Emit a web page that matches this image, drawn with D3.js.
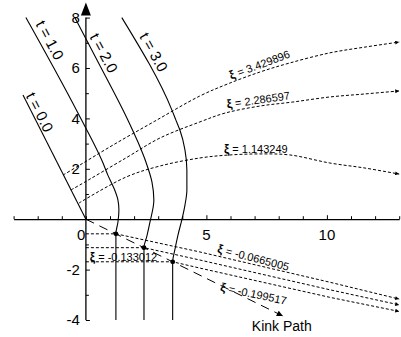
<!DOCTYPE html>
<html>
<head>
<meta charset="utf-8">
<script src="https://cdn.jsdelivr.net/npm/d3@7"></script>
<style>
  html, body { margin: 0; padding: 0; background: #fff; }
  svg { display: block; font-family: "Liberation Sans", Arial, Helvetica, sans-serif; }
</style>
</head>
<body>
<svg id="chart" width="401" height="337"></svg>
<script>
// ---- Tick labels ----
const xTickLabels = [0, 5, 10];
const yTickLabels = [-4, -2, 2, 4, 6, 8];

// ---- String shape at successive times (x, y) ----
const timeLabels = ["t = 0.0", "t = 1.0", "t = 2.0", "t = 3.0"];
const stringT0 = [[-2.61, 4.93], [0, 0]];
const stringT1 = [[-2.49, 8], [-0.33, 4.21], [0.71, 2.23], [0.91, 1.75], [1.16, 1.24], [1.33, 0.76],
                  [1.37, 0.37], [1.33, -0.11], [1.245, -0.58], [1.245, -4]];
const stringT2 = [[-0.46, 8], [0.46, 6.32], [1.74, 3.94], [2.16, 3.06], [2.49, 2.27], [2.74, 1.48],
                  [2.82, 0.76], [2.66, -0.11], [2.53, -0.67], [2.41, -1.13], [2.41, -4]];
const stringT3 = [[1.49, 8], [3.57, 4.33], [3.73, 3.94], [3.90, 3.54], [4.11, 2.75], [4.19, 1.95],
                  [4.19, 1.16], [4.11, 0.56], [3.98, -0.03], [3.82, -0.63], [3.69, -1.22], [3.6, -1.69], [3.6, -4]];

// ---- Material lines, positive xi ----
const xiPosValues = ["3.429896", "2.286597", "1.143249"];
const xiPos1 = [[-0.95, 1.75], [-0.25, 2.15], [1.12, 2.94], [2.86, 3.89], [4.73, 4.89], [5.89, 5.37],
                [7.22, 5.84], [8.46, 6.2], [10.12, 6.6], [11.58, 6.83], [13, 7.03]];
const xiPos2 = [[-0.62, 1.16], [-0.25, 1.36], [1.66, 2.43], [3.07, 3.22], [4.73, 3.86], [5.77, 4.21],
                [7.22, 4.49], [8.59, 4.65], [10.12, 4.85], [11.58, 4.97], [13, 5.09]];
const xiPos3 = [[-0.29, 0.64], [1.66, 1.67], [3.07, 2.11], [4.73, 2.43], [5.98, 2.55], [7.22, 2.59],
                [8.46, 2.55], [10.12, 2.23], [11.58, 2.03], [13, 1.79]];

// ---- Kink positions at t = 1, 2, 3 and kink path end ----
const kinkX = [1.245, 2.41, 3.6];
const kinkY = [-0.58, -1.13, -1.69];
const kinkPathEnd = [8.17, -3.84];

// ---- Material lines, negative xi (after the kink passes) ----
const xiNegValues = ["-0.0665005", "-0.133012", "-0.199517"];
const xiNeg1 = [[4.73, -1.30], [10.12, -2.50], [13, -3.17]];
const xiNeg2 = [[4.73, -1.62], [10.12, -2.80], [13, -3.40]];
const xiNeg3 = [[4.73, -1.94], [10.12, -3.10], [13, -3.66]];

// ---- Scales ----
const x = d3.scaleLinear().domain([-3, 13]).range([13.6, 399.2]);
const y = d3.scaleLinear().domain([-4, 8]).range([320, 17.6]);

const svg = d3.select("#chart");

// markers
const defs = svg.append("defs");
defs.append("marker").attr("id", "tipSmall")
  .attr("viewBox", "0 0 10 10").attr("refX", 10).attr("refY", 5)
  .attr("markerUnits", "userSpaceOnUse").attr("markerWidth", 5).attr("markerHeight", 4)
  .attr("orient", "auto")
  .append("path").attr("d", "M0,0L10,5L0,10Z").attr("fill", "#000");
defs.append("marker").attr("id", "tipKink")
  .attr("viewBox", "0 0 10 10").attr("refX", 10).attr("refY", 5)
  .attr("markerUnits", "userSpaceOnUse").attr("markerWidth", 8).attr("markerHeight", 6)
  .attr("orient", "auto")
  .append("path").attr("d", "M0,0L10,5L0,10Z").attr("fill", "#000");

const plot = svg.append("g");

// ---- string shapes ----
const lineT = d3.line().x(d => x(d[0])).y(d => y(d[1])).curve(d3.curveMonotoneY);
const strings = [stringT0, stringT1, stringT2, stringT3];
plot.selectAll("path.tline").data(strings).join("path")
  .attr("class", "tline")
  .attr("d", lineT)
  .attr("fill", "none").attr("stroke", "#000").attr("stroke-width", 1.1);

// ---- positive xi material lines ----
const lineXi = d3.line().x(d => x(d[0])).y(d => y(d[1])).curve(d3.curveCatmullRom.alpha(0.5));
plot.selectAll("path.xipos").data([xiPos1, xiPos2, xiPos3]).join("path")
  .attr("class", "xipos")
  .attr("d", lineXi)
  .attr("fill", "none").attr("stroke", "#000").attr("stroke-width", 1)
  .attr("stroke-dasharray", "3,2")
  .attr("marker-end", "url(#tipSmall)");

// ---- negative xi material lines: at rest until the kink arrives, then moving ----
const lineStraight = d3.line().x(d => x(d[0])).y(d => y(d[1]));
const negLines = [xiNeg1, xiNeg2, xiNeg3].map((pts, i) =>
  [[0, kinkY[i]], [kinkX[i], kinkY[i]], ...pts]);
plot.selectAll("path.xineg").data(negLines).join("path")
  .attr("class", "xineg")
  .attr("d", lineStraight)
  .attr("fill", "none").attr("stroke", "#000").attr("stroke-width", 1)
  .attr("stroke-dasharray", "3,2")
  .attr("marker-end", "url(#tipSmall)");

// ---- kink path ----
plot.append("path")
  .attr("d", lineStraight([[0, 0], kinkPathEnd]))
  .attr("fill", "none").attr("stroke", "#000").attr("stroke-width", 1)
  .attr("stroke-dasharray", "9,6")
  .attr("marker-end", "url(#tipKink)");

plot.selectAll("circle.kink").data(kinkX).join("circle")
  .attr("class", "kink")
  .attr("cx", d => x(d)).attr("cy", (d, i) => y(kinkY[i]))
  .attr("r", 2.4).attr("fill", "#000");

// ---- axes ----
const axes = svg.append("g");
const xAxis = d3.axisTop(x).tickValues(d3.range(-3, 14)).tickSize(3).tickSizeOuter(0).tickFormat("");
axes.append("g").attr("transform", `translate(0,${y(0)})`).call(xAxis)
  .call(g => g.select(".domain").attr("stroke-width", 1.3))
  .call(g => g.selectAll(".tick line").attr("stroke-width", 1))
  .call(g => g.selectAll(".tick").filter(d => xTickLabels.includes(d) && d !== 0)
    .select("line").attr("y2", -4));

const yAxis = d3.axisRight(y).tickValues(d3.range(-4, 9).filter(v => v !== 0))
  .tickSize(3).tickSizeOuter(0).tickFormat("");
axes.append("g").attr("transform", `translate(${x(0)},0)`).call(yAxis)
  .call(g => g.select(".domain").remove())
  .call(g => g.selectAll(".tick line").attr("stroke-width", 1))
  .call(g => g.selectAll(".tick").filter(d => yTickLabels.includes(d))
    .select("line").attr("x2", 4));

// vertical axis line with arrow head
const arrowTip = y(8) - 15, arrowBase = y(8) - 2;
axes.append("line")
  .attr("x1", x(0)).attr("x2", x(0))
  .attr("y1", y(-4)).attr("y2", arrowBase + 2)
  .attr("stroke", "#000").attr("stroke-width", 1.3);
axes.append("path")
  .attr("d", `M${x(0)},${arrowTip}L${x(0) + 5},${arrowBase}L${x(0) - 5},${arrowBase}Z`)
  .attr("fill", "#000");

// tick labels
axes.selectAll("text.xt").data(xTickLabels).join("text")
  .attr("class", "xt")
  .attr("x", d => d === 0 ? x(d) - 0.5 : x(d))
  .attr("y", y(0) + 20.5)
  .attr("text-anchor", d => d === 0 ? "end" : "middle")
  .attr("font-size", 15)
  .text(d => d);
axes.selectAll("text.yt").data(yTickLabels).join("text")
  .attr("class", "yt")
  .attr("x", x(0) - 6)
  .attr("y", d => y(d))
  .attr("dy", "0.36em")
  .attr("text-anchor", "end")
  .attr("font-size", 15)
  .text(d => d);

// ---- annotations ----
const labels = svg.append("g");

const timeLabelPos = [
  { at: [-1.91, 4.25], angle: 63 },
  { at: [-1.49, 7.11], angle: 62 },
  { at: [0.75, 6.60], angle: 62 },
  { at: [2.82, 6.63], angle: 61 }
];
timeLabels.forEach((txt, i) => {
  const p = timeLabelPos[i];
  labels.append("text")
    .attr("transform", `translate(${x(p.at[0])},${y(p.at[1])}) rotate(${p.angle})`)
    .attr("text-anchor", "middle").attr("dy", "0.36em")
    .attr("font-size", 15)
    .text(txt);
});

function xiLabel(value, at, angle) {
  const t = labels.append("text")
    .attr("transform", `translate(${x(at[0])},${y(at[1])}) rotate(${angle})`)
    .attr("text-anchor", "middle").attr("dy", "0.36em");
  t.append("tspan").attr("font-weight", "bold").attr("font-size", 12).text("ξ");
  t.append("tspan").attr("font-size", 11).text(" = " + value);
}
const xiPosLabelPos = [
  { at: [7.18, 6.20], angle: -20.5 },
  { at: [7.14, 4.81], angle: -8 },
  { at: [7.05, 2.87], angle: 0 }
];
xiPosValues.forEach((v, i) => xiLabel(v, xiPosLabelPos[i].at, xiPosLabelPos[i].angle));
const xiNegLabelPos = [
  { at: [6.97, -1.46], angle: 14.5 },
  { at: [1.56, -1.42], angle: 0 },
  { at: [6.97, -2.89], angle: 12 }
];
xiNegValues.forEach((v, i) => xiLabel(v, xiNegLabelPos[i].at, xiNegLabelPos[i].angle));

labels.append("text")
  .attr("x", x(8.13)).attr("y", y(-4.24)).attr("dy", "0.36em")
  .attr("text-anchor", "middle").attr("font-size", 14)
  .text("Kink Path");
</script>
</body>
</html>
